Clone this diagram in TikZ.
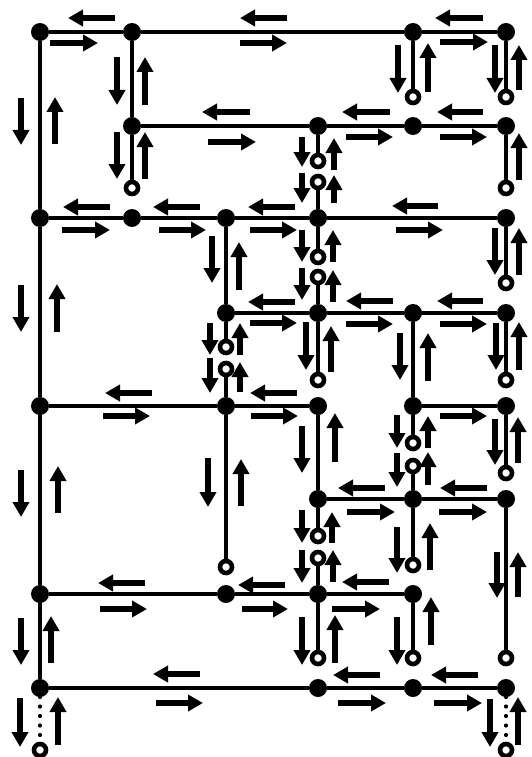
\documentclass[tikz,border=0pt]{standalone}
\usetikzlibrary{arrows.meta}
\begin{document}
\begin{tikzpicture}[x=1pt,y=-1pt,
  dot/.style={circle,fill=black,inner sep=0pt,minimum size=18pt,outer sep=0pt},
  ocirc/.style={circle,draw=black,fill=white,line width=4.6pt,inner sep=0pt,minimum size=12pt},
  road/.style={line width=4.8pt},
  dotline/.style={line width=4.2pt,line cap=round,dash pattern=on 0pt off 9.5pt},
  arr/.style={line width=6.3pt,-{Triangle[length=15pt,width=16pt]}}]
\useasboundingbox (0,0) rectangle (532,757);
% filled junctions
\foreach \n/\x/\y in {d11/40/32,d12/132/32,d15/413/32,d16/506/32,
  d22/132/126,d24/318/126,d25/413/126,d26/506/126,
  d31/40/218,d32/132/218,d33/226/218,d34/318/218,d36/506/218,
  d43/226/313,d44/318/313,d45/413/313,d46/506/313,
  d51/40/406,d53/226/406,d54/318/406,d55/413/406,d56/506/406,
  d64/318/499,d65/413/499,d66/506/499,
  d71/40/594,d73/226/594,d74/318/594,d75/413/594,
  d81/40/688,d84/318/688,d85/413/688,d86/506/688}
  \node[dot] (\n) at (\x,\y) {};
% open ends
\foreach \n/\x/\y in {o1/413/97,o2/506/97,o3/132/188,o4/318/161,o5/318/182,o6/506/188,
  o7/318/257,o8/318/277,o9/506/283,o10/226/347,o11/226/369,o12/318/380,o13/506/380,
  o14/413/443,o15/413/466,o16/506/473,o17/226/567,o18/318/536,o19/318/558,o20/413/565,
  o21/318/658,o22/413/658,o23/506/658,o24/40/750,o25/506/750}
  \node[ocirc] (\n) at (\x,\y) {};
% roads
\foreach \a/\b in {d11/d12,d12/d15,d15/d16,
  d22/d24,d24/d25,d25/d26,
  d31/d32,d32/d33,d33/d34,d34/d36,
  d43/d44,d44/d45,d45/d46,
  d51/d53,d53/d54,d55/d56,
  d64/d65,d65/d66,
  d71/d73,d73/d74,d74/d75,
  d81/d84,d84/d85,d85/d86,
  d11/d31,d31/d51,d51/d71,d71/d81,
  d12/d22,d22/o3,
  d33/d43,d43/o10,o11/d53,d53/o17,
  d24/o4,o5/d34,d34/o7,o8/d44,d44/o12,d54/d64,d64/o18,o19/d74,d74/o21,
  d15/o1,d45/d55,d55/o14,o15/d65,d65/o20,d75/o22,
  d16/o2,d26/o6,d36/o9,d46/o13,d56/o16,d66/o23}
  \draw[road] (\a) -- (\b);
\draw[dotline] (d81) -- (o24);
\draw[dotline] (d86) -- (o25);
% left-pointing arrows: tip x / tail x / y
\foreach \a/\b/\y in {68/115/18,240/287/18,435/483/18,
  202/250/112,342/390/112,437/483/112,
  63/110/207,153/200/207,248/295/207,392/438/206,
  248/295/302,346/393/301,437/483/301,
  105/152/393,250/297/393,
  338/385/488,440/487/488,
  98/145/583,238/285/585,342/389/582,
  153/200/674,333/380/675,431/478/675}
  \draw[arr] (\b,\y) -- (\a,\y);
% right-pointing arrows: tail x / tip x / y
\foreach \a/\b/\y in {50/98/43,240/287/43,440/488/42,
  208/256/142,346/393/137,440/487/137,
  62/110/230,159/206/230,250/297/230,396/443/230,
  250/297/323,346/393/324,440/487/324,
  103/150/416,251/298/416,440/487/416,
  347/395/512,439/487/512,
  100/147/609,242/288/609,332/380/609,
  156/203/703,338/386/703,434/482/703}
  \draw[arr] (\a,\y) -- (\b,\y);
% down arrows: x / tail y / tip y
\foreach \x/\a/\b in {21/98/145,117/57/105,117/132/179,398/45/93,495/45/93,
  302/137/167,302/173/203,
  21/285/332,212/236/283,302/230/262,302/268/300,495/228/275,
  210/323/355,210/358/393,306/322/370,400/333/380,496/323/370,
  208/458/507,21/470/517,302/426/473,397/415/448,397/453/487,495/419/465,
  302/510/543,302/550/583,397/527/573,497/552/598,
  21/618/665,302/617/665,397/617/665,
  20/698/747,490/699/747}
  \draw[arr] (\x,\a) -- (\x,\b);
% up arrows: x / tip y / tail y
\foreach \x/\a/\b in {55/97/144,145/57/105,145/132/179,428/43/92,519/45/90,
  334/138/170,334/175/203,519/133/180,
  57/284/332,239/242/290,333/230/262,333/270/302,519/228/275,
  240/323/355,240/362/392,331/326/372,428/333/381,519/322/370,
  241/459/506,58/466/513,335/413/462,428/416/448,428/452/485,518/417/463,
  332/512/543,333/550/582,430/523/570,518/552/597,
  51/616/663,335/615/663,431/597/645,
  58/697/745,518/697/745}
  \draw[arr] (\x,\b) -- (\x,\a);
\end{tikzpicture}
\end{document}
